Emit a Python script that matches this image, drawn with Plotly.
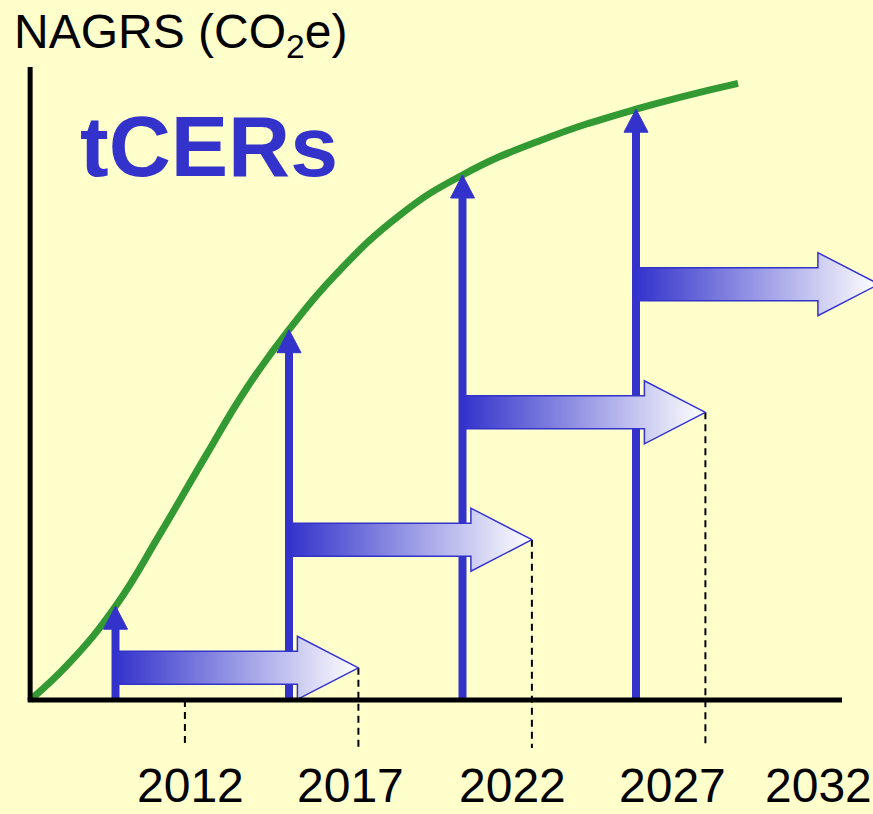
import numpy as np
import plotly.graph_objects as go

# ---------------- data ----------------
curve_years = [2007.54, 2008.69, 2010.0, 2011.28, 2012.58, 2013.76, 2015.0,
               2016.33, 2018.2, 2020.0, 2022.23, 2025.0, 2027.94]
curve_values = [0.0, 5.4, 13.4, 23.7, 34.7, 44.4, 52.9,
                60.7, 69.3, 75.0, 79.9, 84.4, 88.1]
issue_years = [2010, 2015, 2020, 2025]
expiry_years = [2017, 2022, 2027, 2032]
credit_levels = [4.6, 22.9, 41.1, 59.4]
dashed_years = [2012, 2017, 2022, 2027]
tick_labels = ["2012", "2017", "2022", "2027", "2032"]

# ---------------- styling / layout constants ----------------
W, H = 873, 814
PX_PER_YEAR = 34.7
PX_PER_UNIT = 7.0
REF_YEAR, REF_PX = 2010, 115.5
ZERO_PX = 700
x_lo = REF_YEAR - REF_PX / PX_PER_YEAR
x_hi = x_lo + W / PX_PER_YEAR
y_hi = ZERO_PX / PX_PER_UNIT
y_lo = y_hi - H / PX_PER_UNIT

BLUE = "#3333CC"
GREEN = "#339933"
BG = "#FFFFCC"

def dx(px):
    return px / PX_PER_YEAR

def dy(px):
    return px / PX_PER_UNIT

fig = go.Figure()

# dashed reference lines
dash_bottom = -dy(48)
for yr in dashed_years:
    top = 0.0
    for e, lv in zip(expiry_years, credit_levels):
        if e == yr:
            top = lv
    fig.add_trace(go.Scatter(x=[yr, yr], y=[top, dash_bottom], mode="lines",
                             line=dict(color="black", width=2, dash="7px,5px"),
                             hoverinfo="skip", showlegend=False))

# green NAGRS curve
fig.add_trace(go.Scatter(x=curve_years, y=curve_values, mode="lines",
                         line=dict(color=GREEN, width=7, shape="spline", smoothing=1.3),
                         hoverinfo="skip", showlegend=False))

# vertical arrows (credits issued at verification)
hw, hh = dx(12), dy(23)
for yr in issue_years:
    tip = float(np.interp(yr, curve_years, curve_values))
    fig.add_trace(go.Scatter(x=[yr, yr], y=[0, tip - hh + 0.3], mode="lines",
                             line=dict(color=BLUE, width=8),
                             hoverinfo="skip", showlegend=False))
    fig.add_trace(go.Scatter(x=[yr - hw, yr + hw, yr, yr - hw],
                             y=[tip - hh, tip - hh, tip, tip - hh],
                             mode="lines", fill="toself", fillcolor=BLUE,
                             line=dict(color=BLUE, width=1),
                             hoverinfo="skip", showlegend=False))

# horizontal gradient arrows (tCER validity)
bh, ah, al = dy(16.5), dy(31.5), dx(61)
for x0, xt, lv in zip(issue_years, expiry_years, credit_levels):
    xs = [x0, xt - al, xt - al, xt, xt - al, xt - al, x0, x0]
    ys = [lv - bh, lv - bh, lv - ah, lv, lv + ah, lv + bh, lv + bh, lv - bh]
    fig.add_trace(go.Scatter(x=xs, y=ys, mode="lines", fill="toself",
                             fillgradient=dict(type="horizontal",
                                               colorscale=[[0, BLUE], [1, "#FFFFFF"]]),
                             line=dict(color=BLUE, width=1.5),
                             hoverinfo="skip", showlegend=False))

# axes drawn as lines
origin = curve_years[0]
fig.add_shape(type="line", x0=origin, x1=origin, y0=0, y1=dy(700 - 67),
              line=dict(color="black", width=5), layer="above")
fig.add_shape(type="line", x0=origin - dx(2.5), x1=REF_YEAR + dx(842 - REF_PX), y0=0, y1=0,
              line=dict(color="black", width=5), layer="above")

# texts
annotations = [
    dict(text="NAGRS (CO<sub>2</sub>e)", xref="paper", yref="paper",
         x=12 / W, y=1 - 3 / H, xanchor="left", yanchor="top", showarrow=False,
         font=dict(family="Liberation Sans, Arial", size=48, color="black")),
    dict(text="<b>tCERs</b>", xref="paper", yref="paper",
         x=209 / W, y=1 - 146 / H, xanchor="center", yanchor="middle", showarrow=False,
         font=dict(family="Liberation Sans, Arial", size=86, color=BLUE)),
]
label_px = [190, 350, 512, 672, 818]
for lab, px in zip(tick_labels, label_px):
    annotations.append(dict(text=lab, xref="paper", yref="paper",
                            x=px / W, y=0, xanchor="center", yanchor="bottom",
                            showarrow=False,
                            font=dict(family="Liberation Sans, Arial", size=48, color="black")))

fig.update_layout(
    width=W, height=H,
    margin=dict(l=0, r=0, t=0, b=0),
    paper_bgcolor=BG, plot_bgcolor=BG,
    xaxis=dict(range=[x_lo, x_hi], visible=False, fixedrange=True),
    yaxis=dict(range=[y_lo, y_hi], visible=False, fixedrange=True),
    annotations=annotations,
    showlegend=False,
)

fig.write_html("out.html", config={"displayModeBar": False},
               post_script="document.body.style.margin='0';document.body.style.background='" + BG + "';")
